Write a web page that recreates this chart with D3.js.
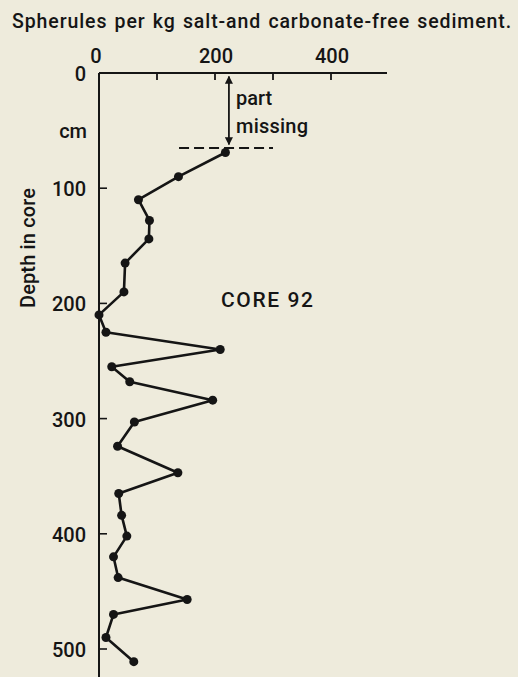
<!DOCTYPE html>
<html>
<head>
<meta charset="utf-8">
<script src="https://cdn.jsdelivr.net/npm/d3@7/dist/d3.min.js"></script>
<style>
  html, body { margin: 0; padding: 0; background: #eeebdc; }
  svg { display: block; }
  text { font-family: Roboto, "DejaVu Sans", sans-serif; font-weight: 500; fill: #151515; }
</style>
</head>
<body>
<svg id="chart" width="518" height="677"></svg>
<script>
// Data (depth in cm, spherules per kg)
const depths = [69, 90, 110, 128, 144, 165, 190, 210, 225, 240, 255, 268, 284, 303, 324, 347, 365, 384, 402, 420, 438, 457, 470, 490, 511];
const values = [218, 137, 68, 87, 86, 45, 43, 0, 12, 209, 22, 53, 196, 61, 32, 136, 34, 39, 48, 25, 33, 152, 25, 12, 60];
const xTicks = [0, 100, 200, 300, 400];
const xTickLabels = ["0", "", "200", "", "400"];
const yTicks = [0, 100, 200, 300, 400, 500];
const yTickLabels = ["0", "100", "200", "300", "400", "500"];
const missingDepth = 65;        // top of preserved core (dashed line)
const missingRange = [138, 300]; // dashed line extent in x units
const arrowX = 224;
const arrowDepths = [3, 62];

const svg = d3.select("#chart");
const ink = "#151515";

const x = d3.scaleLinear().domain([0, 400]).range([99, 331]);
const y = d3.scaleLinear().domain([0, 500]).range([73, 649]);

// stretch a text to a target width via letter-spacing
function fit(sel, w) {
  const n = sel.text().length;
  const len = sel.node().getComputedTextLength();
  if (n > 1) sel.attr("letter-spacing", (w - len) / (n - 1));
  return sel;
}
// stretch via word-spacing first, small letter-spacing
function fitWords(sel, w, ls) {
  sel.attr("letter-spacing", ls);
  const words = sel.text().split(" ").length - 1;
  const len = sel.node().getComputedTextLength();
  if (words > 0) sel.attr("word-spacing", (w - len) / words);
  return sel;
}

// Title
fitWords(svg.append("text")
  .attr("x", 12).attr("y", 28)
  .attr("font-size", 19.5)
  .text("Spherules per kg salt-and carbonate-free sediment."), 500, 0.9);

// X axis (top)
svg.append("line")
  .attr("x1", x(0)).attr("x2", 387)
  .attr("y1", y(0)).attr("y2", y(0))
  .attr("stroke", ink).attr("stroke-width", 2);
const xt = svg.append("g");
xt.selectAll("line").data(xTicks.filter(d => d > 0)).join("line")
  .attr("x1", d => x(d)).attr("x2", d => x(d))
  .attr("y1", y(0)).attr("y2", y(0) + 7)
  .attr("stroke", ink).attr("stroke-width", 1.8);
xt.selectAll("text").data(xTicks).join("text")
  .attr("x", (d, i) => x(d) + (d === 0 ? -3 : 1))
  .attr("y", 63)
  .attr("text-anchor", "middle")
  .attr("font-size", 20)
  .text((d, i) => xTickLabels[i]);

// Y axis (left)
svg.append("line")
  .attr("x1", x(0)).attr("x2", x(0))
  .attr("y1", y(0)).attr("y2", 677)
  .attr("stroke", ink).attr("stroke-width", 2);
const yt = svg.append("g");
yt.selectAll("line").data(yTicks.filter(d => d > 0)).join("line")
  .attr("x1", x(0)).attr("x2", x(0) + 8)
  .attr("y1", d => y(d)).attr("y2", d => y(d))
  .attr("stroke", ink).attr("stroke-width", 1.6);
yt.selectAll("text").data(yTicks).join("text")
  .attr("x", 86)
  .attr("y", d => y(d) + 8)
  .attr("text-anchor", "end")
  .attr("font-size", 20)
  .text((d, i) => yTickLabels[i]);
svg.append("text")
  .attr("x", 87).attr("y", 138)
  .attr("text-anchor", "end")
  .attr("font-size", 20)
  .text("cm");

// Y axis title
const yTitle = svg.append("text")
  .attr("transform", "translate(35, 248) rotate(-90)")
  .attr("text-anchor", "middle")
  .attr("font-size", 20)
  .text("Depth in core");
fit(yTitle, 120);

// "part missing" annotation
svg.append("line")
  .attr("x1", x(missingRange[0])).attr("x2", x(missingRange[1]))
  .attr("y1", y(missingDepth)).attr("y2", y(missingDepth))
  .attr("stroke", ink).attr("stroke-width", 2)
  .attr("stroke-dasharray", "10,5");

const defs = svg.append("defs");
defs.append("marker")
  .attr("id", "ah").attr("viewBox", "0 0 10 10")
  .attr("refX", 9).attr("refY", 5)
  .attr("markerWidth", 4.5).attr("markerHeight", 4.5)
  .attr("orient", "auto-start-reverse")
  .append("path").attr("d", "M0,0 L10,5 L0,10 Z").attr("fill", ink);

svg.append("line")
  .attr("x1", x(arrowX)).attr("x2", x(arrowX))
  .attr("y1", y(arrowDepths[0])).attr("y2", y(arrowDepths[1]))
  .attr("stroke", ink).attr("stroke-width", 1.8)
  .attr("marker-start", "url(#ah)").attr("marker-end", "url(#ah)");

svg.append("text").attr("x", 236).attr("y", 105).attr("font-size", 20).text("part");
fit(svg.append("text").attr("x", 236).attr("y", 133).attr("font-size", 20).text("missing"), 72);

// Core label
fit(svg.append("text")
  .attr("x", 221).attr("y", 307)
  .attr("font-size", 21)
  .text("CORE 92"), 92);

// Data line and points
const pts = depths.map((d, i) => ({ depth: d, value: values[i] }));
svg.append("path")
  .datum(pts)
  .attr("fill", "none")
  .attr("stroke", ink)
  .attr("stroke-width", 2.6)
  .attr("stroke-linejoin", "round")
  .attr("d", d3.line().x(d => x(d.value)).y(d => y(d.depth)));
svg.selectAll("circle.pt").data(pts).join("circle")
  .attr("class", "pt")
  .attr("cx", d => x(d.value))
  .attr("cy", d => y(d.depth))
  .attr("r", 4.5)
  .attr("fill", ink);
</script>
</body>
</html>
